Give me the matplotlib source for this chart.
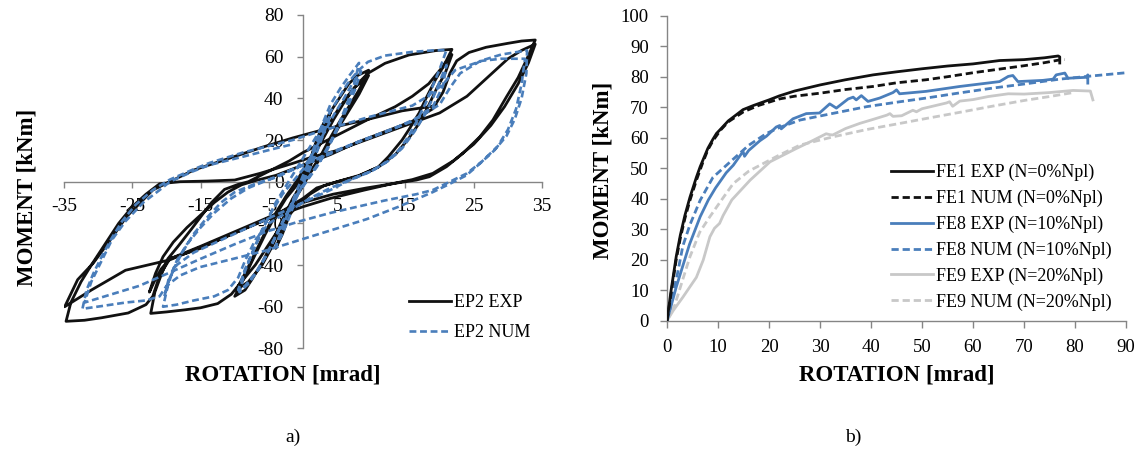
import matplotlib
matplotlib.use("Agg")
import matplotlib.pyplot as plt

plt.rcParams['font.family'] = ['Liberation Serif', 'DejaVu Serif']
plt.rcParams['axes.unicode_minus'] = False

# ---------------- (a) cyclic test EP2: rotation [mrad], moment [kNm] ----------------
ep2_exp = [
    (0, 0), (1, 10), (2, 20), (3, 28), (4, 33),
    (3, 24), (2, 15), (1, 7), (0, 0), (-1, -7), (-2, -16), (-3, -25), (-4, -32),
    (-3, -23), (-2, -14), (-1, -6), (0, 2), (1, 10), (2, 19), (3, 27), (4.3, 35),
    (5.5, 41), (6.7, 47), (8, 51), (9.6, 53.5),
    (8.2, 44), (6.7, 36), (5.2, 28), (3.8, 20), (2.5, 12), (1.3, 6), (0, 0),
    (-1.5, -8), (-3, -18), (-4.5, -29), (-6, -39), (-7.5, -47), (-8.5, -52), (-10, -55),
    (-8.6, -46), (-7, -35), (-5.5, -25), (-4, -16), (-2.5, -8), (-1, -2), (0, 4),
    (1.5, 12), (3, 21), (4.5, 30), (6, 38), (7.5, 45), (9.6, 51),
    (8.2, 42), (6.7, 34), (5.2, 26), (3.8, 18), (2.5, 11), (1, 4), (0, -2),
    (-1.5, -10), (-3, -20), (-4.5, -31), (-6, -40), (-8, -48), (-9.8, -52),
    (-8.5, -44), (-7, -34), (-5.5, -24), (-4, -15), (-2.5, -7), (-1, 0), (0.5, 8),
    (2, 17), (3.5, 26), (5, 34), (6.5, 41), (8, 47), (9.5, 52), (12, 56.8),
    (15.5, 60.8), (19.4, 62.9), (21.8, 63.5),
    (20.5, 55), (19.4, 49), (18, 40), (17, 33), (15.5, 25), (14.5, 20), (12.5, 12),
    (11, 7), (8.2, 3), (5, 0), (3, -2), (1, -6), (-1, -12), (-3, -20), (-5, -30),
    (-7, -40), (-9, -48), (-10.5, -54), (-12.5, -58.5), (-15, -60.5), (-17.3, -61.5),
    (-20, -62.5), (-22.3, -63.2),
    (-21.7, -53), (-20.8, -45), (-19.8, -37), (-18.3, -31), (-16.4, -23), (-14.9, -16.5),
    (-13.4, -10), (-11.5, -3.7), (-9.5, -1.3), (-8, 0), (-5, 5), (-2, 10), (0, 14),
    (3, 19), (6, 24), (9.6, 30), (13.5, 36), (16, 41), (18.4, 47), (20.4, 55), (21.8, 61),
    (20.8, 52), (19.6, 45), (18.3, 36), (17, 28), (15.3, 20), (13.5, 13), (11, 7),
    (8, 2.5), (5, 0), (2, -3), (0, -8), (-3, -14), (-6, -19), (-11, -26), (-15, -32),
    (-19.5, -37), (-20.8, -42), (-21.8, -48), (-22.5, -53),
    (-21.6, -44), (-20.5, -36), (-19, -29), (-17, -22), (-15, -16), (-13, -10),
    (-11, -5), (-9, -1.5), (-7, 0.5), (-4, 3), (0, 8), (4, 13), (8, 19), (12, 24),
    (16, 29), (19, 35), (20.5, 43), (21.5, 52), (22.5, 58), (24.3, 62), (26.8, 64.5),
    (30, 66.4), (32, 67.5), (34, 68),
    (32.7, 58.4), (31.5, 50), (29.8, 40.8), (27.8, 29.6), (25.9, 21.6), (23.4, 13.6),
    (21, 7.2), (18.5, 2.4), (16.6, 0.8), (14, -0.5), (9.3, -3), (4.4, -6), (0, -10),
    (-5, -17), (-10, -24), (-15, -31), (-19.5, -37), (-21, -45), (-22, -55),
    (-23, -59), (-25.6, -63), (-29.5, -65.3), (-32, -66.5), (-34.7, -67),
    (-34, -58), (-32.5, -48), (-31, -40), (-29, -30), (-27, -20), (-25, -12), (-23, -6),
    (-21, -1), (-18, 0), (-14, 0.3), (-10, 0.8), (-6.3, 4), (-1.5, 8.8), (1.5, 12),
    (5, 15), (10, 21), (15, 27), (20, 33), (24, 41), (27, 50), (30, 59), (32, 63), (34, 66),
    (33, 57), (31.5, 47), (29.5, 36), (27.5, 27), (25, 18), (22, 10), (19, 4), (16, 1),
    (13, -1), (9, -4), (4, -8), (0, -12), (-6, -19), (-11, -26), (-19.5, -37.5),
    (-26, -42.5), (-31, -52), (-34.9, -60),
    (-33, -47), (-30.7, -39), (-28, -27), (-25.9, -17), (-22, -4), (-19.5, 0),
    (-16, 5.6), (-11, 11), (-6, 16.5), (-1.5, 21), (3, 25), (9.6, 30), (14.5, 34),
    (19.5, 36.5),
]

ep2_num = [
    (0, 0), (1, 9), (2, 18), (3, 26), (4, 32),
    (3, 23), (2, 14), (1, 6), (0, -1), (-1, -8), (-2, -17), (-3, -25), (-4, -31),
    (-3, -22), (-2, -13), (-1, -5), (0, 3), (1, 11), (2, 20), (3, 29), (4, 37),
    (5.5, 45), (6.8, 51), (8.2, 57),
    (7.5, 47), (6.5, 38), (5.3, 28), (4, 19), (2.5, 10), (1, 3), (-0.5, -4),
    (-2, -13), (-3.5, -23), (-5, -33), (-6.5, -42), (-8, -49), (-9.3, -53),
    (-8.5, -43), (-7.3, -33), (-6, -23), (-4.5, -14), (-3, -6), (-1.5, 0), (0, 6),
    (1.5, 14), (3, 23), (4.5, 32), (6, 40), (7.2, 47), (8.5, 53),
    (7.6, 44), (6.4, 35), (5, 25), (3.5, 15), (2, 7), (0.5, 0), (-1, -7),
    (-2.5, -16), (-4, -26), (-5.5, -36), (-7, -44), (-8.5, -50), (-9.5, -52),
    (-8.5, -42), (-7, -31), (-5.5, -20), (-4, -10), (-2.5, -2), (-1, 6), (0.5, 14),
    (2, 22), (3.5, 31), (5, 39), (6.5, 47), (8, 53), (9.5, 57.5), (12, 60.5),
    (16, 62.3), (19, 63), (21, 63.2),
    (20, 54), (19, 46), (18, 38), (16.8, 30), (15.5, 22), (14, 15), (12, 9), (10, 5),
    (7, 1), (4, -3), (1, -8), (-2, -14), (-5, -20), (-7, -28), (-8.5, -38),
    (-9.5, -46), (-11, -52), (-13, -55), (-16, -57), (-18.5, -59), (-20.5, -60),
    (-19.8, -50), (-19, -42), (-17.5, -33), (-16, -25), (-14, -17), (-12, -10),
    (-10, -5), (-7, -1), (-4, 2), (0, 8), (4, 14), (8, 19), (12, 24), (16, 29),
    (19, 36), (20.5, 46), (21, 56),
    (20, 48), (19, 40), (17.8, 32), (16.3, 24), (14.5, 16), (12.5, 10), (10, 5),
    (7, 1), (4, -4), (0, -10), (-4, -16), (-8, -22), (-12, -28), (-16, -34),
    (-18.5, -40), (-19.7, -47), (-20.3, -55),
    (-19.5, -46), (-18.5, -38), (-17, -30), (-15, -22), (-13, -15), (-10.5, -8),
    (-8, -3), (-5, 1), (-1.5, 6), (3, 12), (8, 19), (13, 25), (17, 31), (20, 37),
    (21.5, 45), (23, 52), (26, 58), (29, 61), (32.8, 63),
    (32.7, 52), (32, 40), (31, 30), (29.8, 22), (28, 15), (26, 9), (23.9, 3),
    (21.5, -1), (19, -5), (14, -12), (9.3, -18), (4.4, -23), (-0.5, -28),
    (-5.4, -33), (-10.2, -37), (-15.1, -41), (-18, -45), (-20, -50), (-21, -55),
    (-23, -57), (-26, -58), (-29.5, -59.7), (-32.3, -61),
    (-31.7, -52), (-30.7, -44), (-29.5, -36), (-28, -27), (-26.5, -19),
    (-24.5, -11), (-22, -4), (-19.5, 1), (-16, 6), (-13.7, 9), (-8.8, 14),
    (-1.5, 20), (2.3, 24), (9.6, 31), (16, 36.5), (18, 40.5), (20.4, 46.4),
    (22.3, 53.6), (26.2, 58), (29, 59), (32.5, 59),
    (32, 47), (31.2, 35), (30, 25), (28.5, 17), (26.3, 10), (24, 4), (21.5, 0),
    (19, -4), (16.6, -6), (12, -9), (9.3, -11), (4, -15), (-0.5, -19), (-5.4, -24),
    (-10, -30), (-15, -37), (-19.8, -44), (-24, -50), (-28, -54), (-32, -58),
    (-31, -48), (-29.5, -38), (-28, -28), (-26, -19), (-23.4, -10), (-21, -4),
    (-19.5, 0), (-16.1, 5), (-13.7, 8), (-8.8, 12), (-4, 16), (-1.5, 18),
]

# ---------------- (b) monotonic tests: rotation [mrad], moment [kNm] ----------------
fe1_exp_rot = [0, 0.8, 1.8, 2.6, 3.5, 4.5, 5.75, 6.5, 7, 8, 9, 9.7, 10.5, 12, 14.9,
               17, 20, 22, 25, 30, 35, 40.4, 45, 50, 55, 60, 65.2, 70, 74, 76.7, 77, 77]
fe1_exp_mom = [0, 10, 21, 28, 34.5, 40.5, 47, 50.5, 52.5, 56.5, 59.5, 61.4, 62.8,
               65.5, 69.2, 70.6, 72.4, 73.7, 75.3, 77.3, 79, 80.6, 81.6, 82.6, 83.5,
               84.2, 85.3, 85.6, 86.2, 86.8, 86.5, 84.5]

fe1_num_rot = [0, 0.8, 1.8, 2.6, 3.5, 4.5, 5.75, 6.5, 7, 8, 9, 10.5, 12, 15, 18, 22,
               25, 30, 35, 40.4, 45, 50.8, 55, 60, 63.9, 70, 74, 77.6, 78]
fe1_num_mom = [0, 9, 20, 27, 33.5, 39.5, 46, 49.5, 51.8, 56, 59, 62.5, 65.2, 68.5,
               70.6, 72.7, 73.6, 74.6, 75.8, 76.8, 78, 79, 80, 81.3, 82.2, 83.6, 84.6,
               85.7, 85.6]

fe8_exp_rot = [0, 1.8, 4.4, 6.5, 8.1, 9.5, 11.6, 13, 14.9, 15.2, 16, 18.2, 19.5, 21.4,
               22.1, 22.4, 24.7, 27.3, 29.9, 31.9, 33.2, 35.5, 36.5, 37.1, 38.1, 39.4,
               41.7, 44.3, 45.0, 45.6, 50.8, 57.4, 65.2, 66.9, 67.8, 68.8, 73.7, 75.7,
               76.3, 78.0, 78.6, 82.2, 82.5, 82.5]
fe8_exp_mom = [0, 11, 25, 34.1, 39.6, 43.5, 48.5, 51, 55.5, 53.9, 55.8, 59, 60.5,
               63.5, 64, 62.9, 66.2, 67.9, 68.1, 71.1, 69.7, 72.7, 73.3, 72.4, 73.8,
               71.9, 73.0, 74.8, 75.7, 74.4, 75.2, 76.8, 78.4, 80.1, 80.4, 78.4, 78.8,
               79.2, 80.6, 81.2, 79.5, 79.8, 80.6, 77.9]

fe8_num_rot = [0, 1, 2, 3.1, 4.5, 6.5, 9, 13, 16, 19.5, 22, 26.1, 32.6, 39.2, 45.7,
               50.8, 57, 64, 70, 77, 83, 90]
fe8_num_mom = [0, 7, 15, 24.5, 31.5, 39.5, 47, 53, 57.5, 61.4, 63.3, 65.8, 68, 70.2,
               71.8, 73, 74.6, 76.3, 77.6, 79.2, 80.2, 81.3]

fe9_exp_rot = [0, 1.2, 3.1, 4.4, 5.75, 7.1, 8.4, 9.3, 10.3, 11, 12.7, 16.3, 20.2, 25.4,
               28.5, 31.2, 31.9, 32.5, 35, 37.8, 40, 43.1, 43.7, 44.3, 46, 48.2, 48.9,
               50, 54.8, 55.4, 56, 57.4, 60, 63, 66.9, 70, 75, 79.6, 83, 83.5]
fe9_exp_mom = [0, 3.3, 7.7, 10.9, 14.2, 19.9, 27.5, 30.3, 31.9, 34.5, 39.6, 46.1,
               52.1, 56.5, 59, 61.3, 61, 60.9, 63, 64.7, 65.8, 67.4, 67.9, 67, 67.2,
               69, 68.5, 69.5, 71.4, 71.8, 70.3, 72, 72.5, 73.5, 74.4, 74.3, 74.8,
               75.5, 75.3, 72.4]

fe9_num_rot = [0, 1.5, 3.1, 4.5, 6.4, 8.4, 10.7, 13, 16, 19.5, 22, 26.1, 32.6, 39.2,
               45.7, 50.8, 57, 64, 70, 75, 79.6]
fe9_num_mom = [0, 5, 13.6, 21, 29, 34.1, 39.6, 45, 49, 52.1, 54.3, 57.6, 60.3, 62.7,
               64.7, 66.3, 68.2, 70.4, 72.2, 73.5, 74.8]

BLUE = '#4a7ebb'
GREY = '#c8c8c8'
SPINE = '#858585'
TITLE_FS = 16.5

fig = plt.figure(figsize=(11.41, 4.54), dpi=100)

# ---------------- panel a ----------------
axL = fig.add_axes([0.0561, 0.2326, 0.419, 0.7344])
r, m = zip(*ep2_exp)
axL.plot(r, m, color='#111111', lw=2.0, label='EP2 EXP', zorder=3)
r, m = zip(*ep2_num)
axL.plot(r, m, color=BLUE, lw=1.9, dashes=(2.6, 1.4), label='EP2 NUM', zorder=4)
axL.set_xlim(-35, 35)
axL.set_ylim(-80, 80)
axL.set_xticks(range(-35, 36, 10))
axL.set_yticks(range(-80, 81, 20))
for side in ('top', 'right'):
    axL.spines[side].set_visible(False)
axL.spines['left'].set_position(('data', 0))
axL.spines['bottom'].set_position(('data', 0))
for side in ('left', 'bottom'):
    axL.spines[side].set_color(SPINE)
    axL.spines[side].set_linewidth(1.0)
axL.tick_params(direction='out', length=4, width=1, color=SPINE, labelsize=14)
axL.tick_params(axis='x', pad=8)
axL.tick_params(axis='y', pad=10)
axL.patch.set_alpha(0)
axL.legend(loc='upper left', bbox_to_anchor=(0.722, 0.163), frameon=False,
           fontsize=13, handlelength=2.3, handletextpad=0.2, labelspacing=0.72,
           borderpad=0, borderaxespad=0)

fig.text(283 / 1141, 1 - 375 / 454, 'ROTATION [mrad]', fontsize=TITLE_FS,
         fontweight='bold', ha='center', va='center')
fig.text(27 / 1141, 1 - 197 / 454, 'MOMENT [kNm]', fontsize=TITLE_FS,
         fontweight='bold', ha='center', va='center', rotation=90)
fig.text(293 / 1141, 1 - 437 / 454, 'a)', fontsize=14, ha='center', va='center')

# ---------------- panel b ----------------
axR = fig.add_axes([0.5846, 0.2936, 0.4023, 0.6718])
axR.plot(fe1_exp_rot, fe1_exp_mom, color='#111111', lw=2.0,
         label='FE1 EXP (N=0%Npl)', zorder=6)
axR.plot(fe1_num_rot, fe1_num_mom, color='#111111', lw=2.0, dashes=(2.6, 1.4),
         label='FE1 NUM (N=0%Npl)', zorder=5)
axR.plot(fe8_exp_rot, fe8_exp_mom, color=BLUE, lw=2.0,
         label='FE8 EXP (N=10%Npl)', zorder=4)
axR.plot(fe8_num_rot, fe8_num_mom, color=BLUE, lw=2.0, dashes=(2.6, 1.4),
         label='FE8 NUM (N=10%Npl)', zorder=3)
axR.plot(fe9_exp_rot, fe9_exp_mom, color=GREY, lw=2.0,
         label='FE9 EXP (N=20%Npl)', zorder=2)
axR.plot(fe9_num_rot, fe9_num_mom, color=GREY, lw=2.0, dashes=(2.6, 1.4),
         label='FE9 NUM (N=20%Npl)', zorder=1)
axR.set_xlim(0, 90)
axR.set_ylim(0, 100)
axR.set_xticks(range(0, 91, 10))
axR.set_yticks(range(0, 101, 10))
for side in ('top', 'right'):
    axR.spines[side].set_visible(False)
for side in ('left', 'bottom'):
    axR.spines[side].set_color(SPINE)
    axR.spines[side].set_linewidth(1.0)
axR.tick_params(direction='out', length=5, width=1, color=SPINE, labelsize=13.5)
axR.tick_params(axis='x', pad=8)
axR.tick_params(axis='y', pad=8)
axR.patch.set_alpha(0)
axR.legend(loc='upper left', bbox_to_anchor=(0.488, 0.515), frameon=False,
           fontsize=13, handlelength=2.3, handletextpad=0.2, labelspacing=0.48,
           borderpad=0, borderaxespad=0)

fig.text(897 / 1141, 1 - 375 / 454, 'ROTATION [mrad]', fontsize=TITLE_FS,
         fontweight='bold', ha='center', va='center')
fig.text(603 / 1141, 1 - 170 / 454, 'MOMENT [kNm]', fontsize=TITLE_FS,
         fontweight='bold', ha='center', va='center', rotation=90)
fig.text(853 / 1141, 1 - 437 / 454, 'b)', fontsize=14, ha='center', va='center')

fig.savefig('out.png', dpi=100)
